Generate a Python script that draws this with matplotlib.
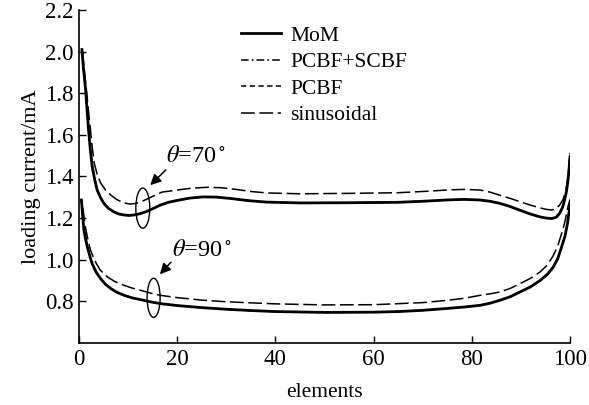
import matplotlib
matplotlib.use("Agg")
import matplotlib.pyplot as plt
from matplotlib.patches import Ellipse

plt.rcParams["font.family"] = ["Liberation Serif", "DejaVu Serif"]
plt.rcParams["mathtext.fontset"] = "stix"

# element positions (denser near the ends)
X_70 = [0.6, 0.9, 1.35, 1.7, 2.0, 2.3, 2.7, 3.2, 3.7, 4.4, 5.1, 6.0, 7.1, 8.1, 9.2, 10.2,
        11.2, 12.4, 13.6, 15.0, 16.6, 18.2, 20, 22.5, 25.3, 28, 31, 34.5, 38.2, 45, 55.2,
        65, 70, 75.6, 78.5, 81.7, 83.7, 85.7, 87.8, 89.8, 91.9, 93.9, 95.2, 96.3, 97.2,
        97.9, 98.5, 98.9, 99.3, 99.6, 99.8, 100]
MOM_70 = [2.01, 1.92, 1.817, 1.70, 1.61, 1.53, 1.447, 1.385, 1.335, 1.298, 1.27, 1.247,
          1.23, 1.22, 1.215, 1.213, 1.215, 1.221, 1.23, 1.245, 1.263, 1.276, 1.285, 1.296,
          1.302, 1.301, 1.294, 1.284, 1.277, 1.273, 1.274, 1.276, 1.281, 1.288, 1.29,
          1.287, 1.281, 1.271, 1.256, 1.238, 1.22, 1.206, 1.2, 1.198, 1.204, 1.223, 1.252,
          1.287, 1.33, 1.383, 1.43, 1.495]
# PCBF+SCBF and PCBF lie on top of the MoM curve
PCBF_SCBF_70 = [2.01, 1.92, 1.817, 1.70, 1.61, 1.53, 1.447, 1.385, 1.335, 1.298, 1.27, 1.247,
                1.23, 1.22, 1.215, 1.213, 1.215, 1.221, 1.23, 1.245, 1.263, 1.276, 1.285, 1.296,
                1.302, 1.301, 1.294, 1.284, 1.277, 1.273, 1.274, 1.276, 1.281, 1.288, 1.29,
                1.287, 1.281, 1.271, 1.256, 1.238, 1.22, 1.206, 1.2, 1.198, 1.204, 1.223, 1.252,
                1.287, 1.33, 1.383, 1.44, 1.50]
PCBF_70 = [2.01, 1.92, 1.817, 1.70, 1.61, 1.53, 1.447, 1.385, 1.335, 1.298, 1.27, 1.247,
           1.23, 1.22, 1.215, 1.213, 1.215, 1.221, 1.23, 1.245, 1.263, 1.276, 1.285, 1.296,
           1.302, 1.301, 1.294, 1.284, 1.277, 1.273, 1.274, 1.276, 1.281, 1.288, 1.29,
           1.287, 1.281, 1.271, 1.256, 1.238, 1.22, 1.206, 1.2, 1.198, 1.204, 1.223, 1.252,
           1.287, 1.33, 1.383, 1.44, 1.50]

X_SIN_70 = [0.7, 1.1, 1.5, 2.0, 2.4, 2.7, 3.1, 3.7, 4.4, 5.4, 6.5, 7.8, 9.2, 10.3, 11.5,
            13.0, 14.6, 16.9, 20, 23, 26, 29, 32, 35, 38.2, 45, 55.2, 65, 70, 75.6, 78.5,
            81.7, 83.7, 85.7, 87.8, 89.8, 91.9, 93.9, 95.2, 96.3, 97.2, 97.9, 98.6, 99.2,
            99.6, 100]
SIN_70 = [2.0, 1.91, 1.82, 1.70, 1.61, 1.54, 1.465, 1.41, 1.37, 1.335, 1.31, 1.288, 1.273,
          1.268, 1.27, 1.282, 1.30, 1.325, 1.335, 1.344, 1.348, 1.346, 1.338, 1.328, 1.321,
          1.317, 1.319, 1.322, 1.328, 1.336, 1.338, 1.335, 1.325, 1.31, 1.295, 1.279,
          1.263, 1.249, 1.242, 1.239, 1.246, 1.263, 1.29, 1.335, 1.40, 1.513]

X_90 = [0.5, 0.75, 1.0, 1.35, 1.7, 2.2, 2.7, 3.5, 4.4, 5.4, 6.5, 7.8, 9.2, 10.8, 12.6,
        14.5, 16.6, 20, 25, 30, 35, 40, 50, 60, 65, 70, 75, 78.5, 81.7, 83.7, 85.7, 87.8,
        89.8, 91.9, 93.9, 95.4, 96.6, 97.5, 98.3, 99.0, 99.5, 100]
MOM_90 = [1.287, 1.21, 1.142, 1.10, 1.062, 1.018, 0.98, 0.94, 0.909, 0.882, 0.861, 0.843,
          0.829, 0.817, 0.808, 0.798, 0.789, 0.78, 0.77, 0.762, 0.756, 0.751, 0.747, 0.748,
          0.751, 0.757, 0.766, 0.773, 0.781, 0.791, 0.805, 0.822, 0.845, 0.869, 0.90,
          0.93, 0.965, 1.005, 1.062, 1.115, 1.175, 1.263]
PCBF_SCBF_90 = [1.287, 1.21, 1.142, 1.10, 1.062, 1.018, 0.98, 0.94, 0.909, 0.882, 0.861, 0.843,
                0.829, 0.817, 0.808, 0.798, 0.789, 0.78, 0.77, 0.762, 0.756, 0.751, 0.747, 0.748,
                0.751, 0.757, 0.766, 0.773, 0.781, 0.791, 0.805, 0.822, 0.845, 0.869, 0.90,
                0.93, 0.965, 1.005, 1.062, 1.115, 1.175, 1.27]
PCBF_90 = [1.287, 1.21, 1.142, 1.10, 1.062, 1.018, 0.98, 0.94, 0.909, 0.882, 0.861, 0.843,
           0.829, 0.817, 0.808, 0.798, 0.789, 0.78, 0.77, 0.762, 0.756, 0.751, 0.747, 0.748,
           0.751, 0.757, 0.766, 0.773, 0.781, 0.791, 0.805, 0.822, 0.845, 0.869, 0.90,
           0.93, 0.965, 1.005, 1.062, 1.115, 1.175, 1.27]

X_SIN_90 = [0.8, 1.2, 1.7, 2.3, 3.1, 4.3, 5.8, 7.4, 9.2, 10.8, 12.6, 14.5, 16.6, 20, 25,
            30, 40, 50, 60, 70, 75, 78.5, 81.7, 83.7, 85.7, 87.8, 89.8, 91.9, 93.9, 95.4,
            96.6, 97.5, 98.3, 99.0, 99.6, 100]
SIN_90 = [1.25, 1.17, 1.11, 1.05, 1.0, 0.951, 0.917, 0.894, 0.877, 0.864, 0.853, 0.84,
          0.829, 0.818, 0.806, 0.798, 0.788, 0.783, 0.784, 0.794, 0.805, 0.815, 0.829,
          0.836, 0.845, 0.862, 0.885, 0.91, 0.941, 0.975, 1.02, 1.065, 1.126, 1.185,
          1.255, 1.29]

X_TICKS = [0, 20, 40, 60, 80, 100]
Y_TICKS = [0.8, 1.0, 1.2, 1.4, 1.6, 1.8, 2.0, 2.2]

fig = plt.figure(figsize=(5.89, 4.05), dpi=100)
ax = fig.add_axes([0.1341, 0.1531, 0.8336, 0.8222])

ax.plot(X_SIN_70, SIN_70, color="black", lw=1.1, dashes=(9, 3), label="sinusoidal")
ax.plot(X_SIN_90, SIN_90, color="black", lw=1.1, dashes=(9, 3))
ax.plot(X_70, PCBF_70, color="black", lw=1.1, dashes=(3.5, 2.2), label="PCBF")
ax.plot(X_90, PCBF_90, color="black", lw=1.1, dashes=(3.5, 2.2))
ax.plot(X_70, PCBF_SCBF_70, color="black", lw=1.1, dashes=(5, 2, 1.2, 2), label="PCBF+SCBF")
ax.plot(X_90, PCBF_SCBF_90, color="black", lw=1.1, dashes=(5, 2, 1.2, 2))
ax.plot(X_70, MOM_70, color="black", lw=2.0, label="MoM")
ax.plot(X_90, MOM_90, color="black", lw=2.0)

# annotations with ellipses
ax.add_patch(Ellipse((13.0, 1.248), 2.85, 0.193, fill=False, color="black", lw=1.0))
ax.add_patch(Ellipse((15.2, 0.817), 2.65, 0.188, fill=False, color="black", lw=1.0))
ax.annotate("", xy=(14.1, 1.349), xytext=(18.1, 1.441),
            arrowprops=dict(arrowstyle="-|>", color="black", lw=1.1, mutation_scale=16))
ax.annotate("", xy=(16.1, 0.92), xytext=(19.1, 0.998),
            arrowprops=dict(arrowstyle="-|>", color="black", lw=1.1, mutation_scale=16))
ax.text(17.8, 1.494, r"$\theta$=70$^\circ$", fontsize=17.5, va="center", ha="left")
ax.text(19.0, 1.046, r"$\theta$=90$^\circ$", fontsize=17.5, va="center", ha="left")

ax.set_xlim(0, 100)
ax.set_ylim(0.6, 2.2)
ax.set_xticks(X_TICKS)
ax.set_yticks(Y_TICKS)
ax.set_yticklabels([f"{v:.1f}" for v in Y_TICKS])
ax.tick_params(direction="in", length=5, width=1, labelsize=16.5, pad=4)
ax.spines["top"].set_visible(False)
ax.spines["right"].set_visible(False)
for side in ["left", "bottom"]:
    ax.spines[side].set_linewidth(1.2)

ax.set_xlabel("elements", fontsize=15.5, labelpad=10)
ax.set_ylabel("loading current/mA", fontsize=16, labelpad=3)

handles, labels = ax.get_legend_handles_labels()
order = ["MoM", "PCBF+SCBF", "PCBF", "sinusoidal"]
hmap = dict(zip(labels, handles))
ax.legend([hmap[k] for k in order], order, loc="upper left", bbox_to_anchor=(0.33, 0.953),
          frameon=False, fontsize=15.5, handlelength=1.85, handletextpad=0.45,
          labelspacing=0.3, borderpad=0, borderaxespad=0)

fig.savefig("out.png", dpi=100)
